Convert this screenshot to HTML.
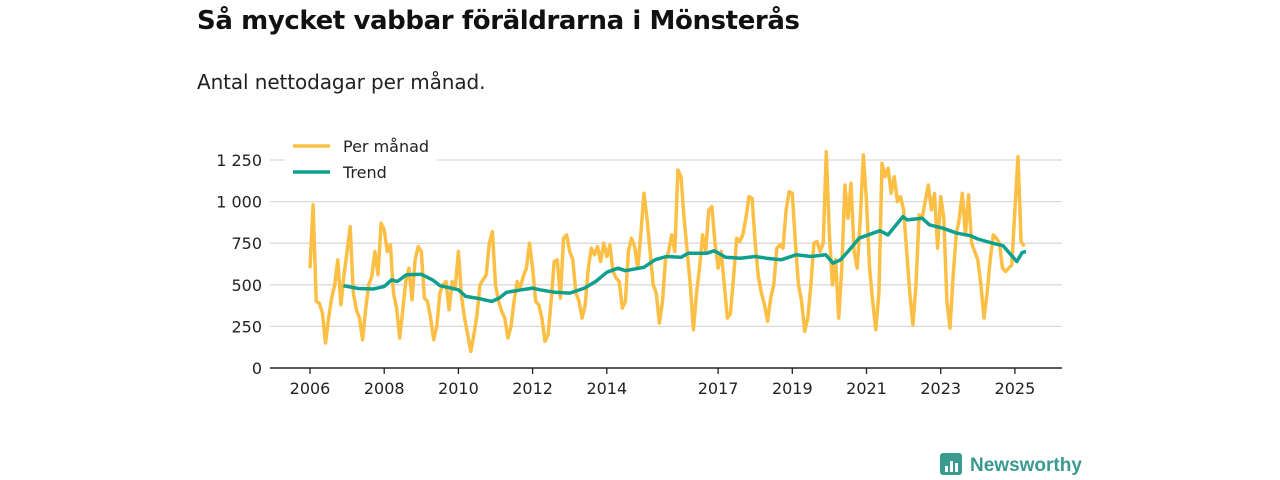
<!DOCTYPE html>
<html><head><meta charset="utf-8"><style>
body{margin:0;background:#fff;font-family:"Liberation Sans","DejaVu Sans",sans-serif;}
#wrap{position:relative;width:1280px;height:480px;overflow:hidden}
h1{position:absolute;left:197px;top:6px;margin:0;font-size:26px;font-weight:bold;color:#111;font-family:"DejaVu Sans","Liberation Sans",sans-serif;letter-spacing:-0.4px}
.sub{position:absolute;left:197px;top:70px;font-size:20px;color:#222;font-family:"DejaVu Sans","Liberation Sans",sans-serif;letter-spacing:-0.1px}
svg text{font-family:"DejaVu Sans","Liberation Sans",sans-serif}
</style></head><body><div id="wrap">
<h1>Så mycket vabbar föräldrarna i Mönsterås</h1>
<div class="sub">Antal nettodagar per månad.</div>
<svg id="chart" width="1280" height="480" style="position:absolute;left:0;top:0"></svg>
</div>
<script>
const monthly = [
600,980,400,390,330,150,300,420,500,650,380,560,
700,850,450,350,300,170,350,500,550,700,560,870,
830,700,740,450,360,180,350,520,600,410,650,730,
700,420,400,300,170,250,450,500,520,350,520,490,
700,430,300,200,100,200,320,500,530,560,750,820,
500,400,340,300,180,250,400,520,480,550,600,750,
600,400,380,300,160,200,400,640,650,420,780,800,
700,650,450,400,300,380,600,720,680,730,640,750,
670,740,580,540,520,360,400,700,780,730,600,800,
1050,900,700,500,450,270,400,650,700,800,700,1190,
1150,900,700,500,230,450,600,800,700,950,970,750,
600,700,500,300,330,550,780,760,800,900,1030,1020,
750,550,450,380,280,420,500,720,740,720,950,1060,
1050,750,500,400,220,300,500,750,760,700,750,1300,
800,500,650,300,600,1100,900,1110,700,600,900,1280,
1000,600,400,230,450,1230,1150,1200,1050,1150,1000,1030,
950,700,450,260,500,920,900,1000,1100,950,1050,720,
1030,900,400,240,550,800,900,1050,800,1040,750,700,
650,500,300,450,650,800,780,750,600,580,600,620,
950,1270,760,730];
const trendYears = [2006.9,2007.3,2007.7,2008.0,2008.2,2008.35,2008.6,2009.0,2009.3,2009.5,2010.0,2010.2,2010.6,2010.9,2011.1,2011.3,2011.7,2012.0,2012.2,2012.6,2013.0,2013.4,2013.7,2014.0,2014.3,2014.5,2015.0,2015.3,2015.6,2016.0,2016.2,2016.7,2016.9,2017.2,2017.6,2018.0,2018.3,2018.7,2019.1,2019.5,2019.9,2020.1,2020.3,2020.5,2020.8,2021.36,2021.58,2021.98,2022.1,2022.5,2022.7,2023.06,2023.44,2023.8,2024.0,2024.4,2024.68,2025.05,2025.2,2025.3];
const trendValues = [495,478,475,490,530,520,560,563,530,495,470,430,415,400,420,455,470,480,470,455,450,480,520,575,600,585,605,650,670,665,690,690,705,665,660,670,660,650,680,670,680,630,650,700,780,825,800,910,890,900,860,840,810,795,775,750,735,640,695,700];
const yTicks = [0,250,500,750,1000,1250];
const yTickLabels = ["0","250","500","750","1 000","1 250"];
const xTicks = [2006,2008,2010,2012,2014,2017,2019,2021,2023,2025];
const startYear = 2006;

const NS="http://www.w3.org/2000/svg";
const svg=document.getElementById('chart');
const x=yr=>310+(yr-2006)*37.1;
const y=v=>368-v*0.1664;
function mk(t,a){const e=document.createElementNS(NS,t);for(const k in a)e.setAttribute(k,a[k]);svg.appendChild(e);return e;}
yTicks.forEach((t,i)=>{
  if(t>0){const g=mk('line',{x1:270,x2:1062,y1:y(t),y2:y(t),stroke:'#d9d9d9','stroke-width':1.3});
  
  }
  const l=mk('text',{x:262,y:y(t)+6,'text-anchor':'end','font-size':16,fill:'#222'});l.textContent=yTickLabels[i];
  
  
});
const ax=mk('line',{x1:270,x2:1062,y1:368,y2:368,stroke:'#222','stroke-width':1.5});


xTicks.forEach(t=>{
  const tk=mk('line',{x1:x(t),x2:x(t),y1:368,y2:374,stroke:'#222','stroke-width':1.3});
  
  
  const l=mk('text',{x:x(t),y:394,'text-anchor':'middle','font-size':16,fill:'#222'});l.textContent=t;
  
  
});
const mp=monthly.map((v,i)=>x(startYear+i/12).toFixed(1)+','+y(v).toFixed(1)).join(' ');
const pm=mk('polyline',{points:mp,fill:'none',stroke:'#fbbf45','stroke-width':3.5,'stroke-linejoin':'round'});


const tp=trendValues.map((v,i)=>x(trendYears[i]).toFixed(1)+','+y(v).toFixed(1)).join(' ');
const tr=mk('polyline',{points:tp,fill:'none',stroke:'#0f9f8f','stroke-width':3.5,'stroke-linejoin':'round'});


// legend
const lb=mk('rect',{x:285,y:132,width:152,height:52,fill:'#fff'});


[['Per månad','#fbbf45',146],['Trend','#0f9f8f',172]].forEach(([n,c,yy])=>{
  const s=mk('line',{x1:293,x2:330,y1:yy,y2:yy,stroke:c,'stroke-width':3.5});
  
  
  const t=mk('text',{x:343,y:yy+6,'font-size':16,fill:'#222'});t.textContent=n;
  
  
});
// logo
const lg=mk('rect',{x:940,y:453,width:22,height:22,rx:3,fill:'#3a9a8f'});


[[945,466,6],[950,461,11],[955,463,9]].forEach(([bx,by,bh])=>{const b=mk('rect',{x:bx,y:by,width:3,height:bh,fill:'#fff'});

});
const lt=mk('text',{x:970,y:471,'font-size':19,'font-weight':'bold',fill:'#3a9a8f',style:'font-family:"Liberation Sans",sans-serif'});lt.textContent='Newsworthy';


</script></body></html>
